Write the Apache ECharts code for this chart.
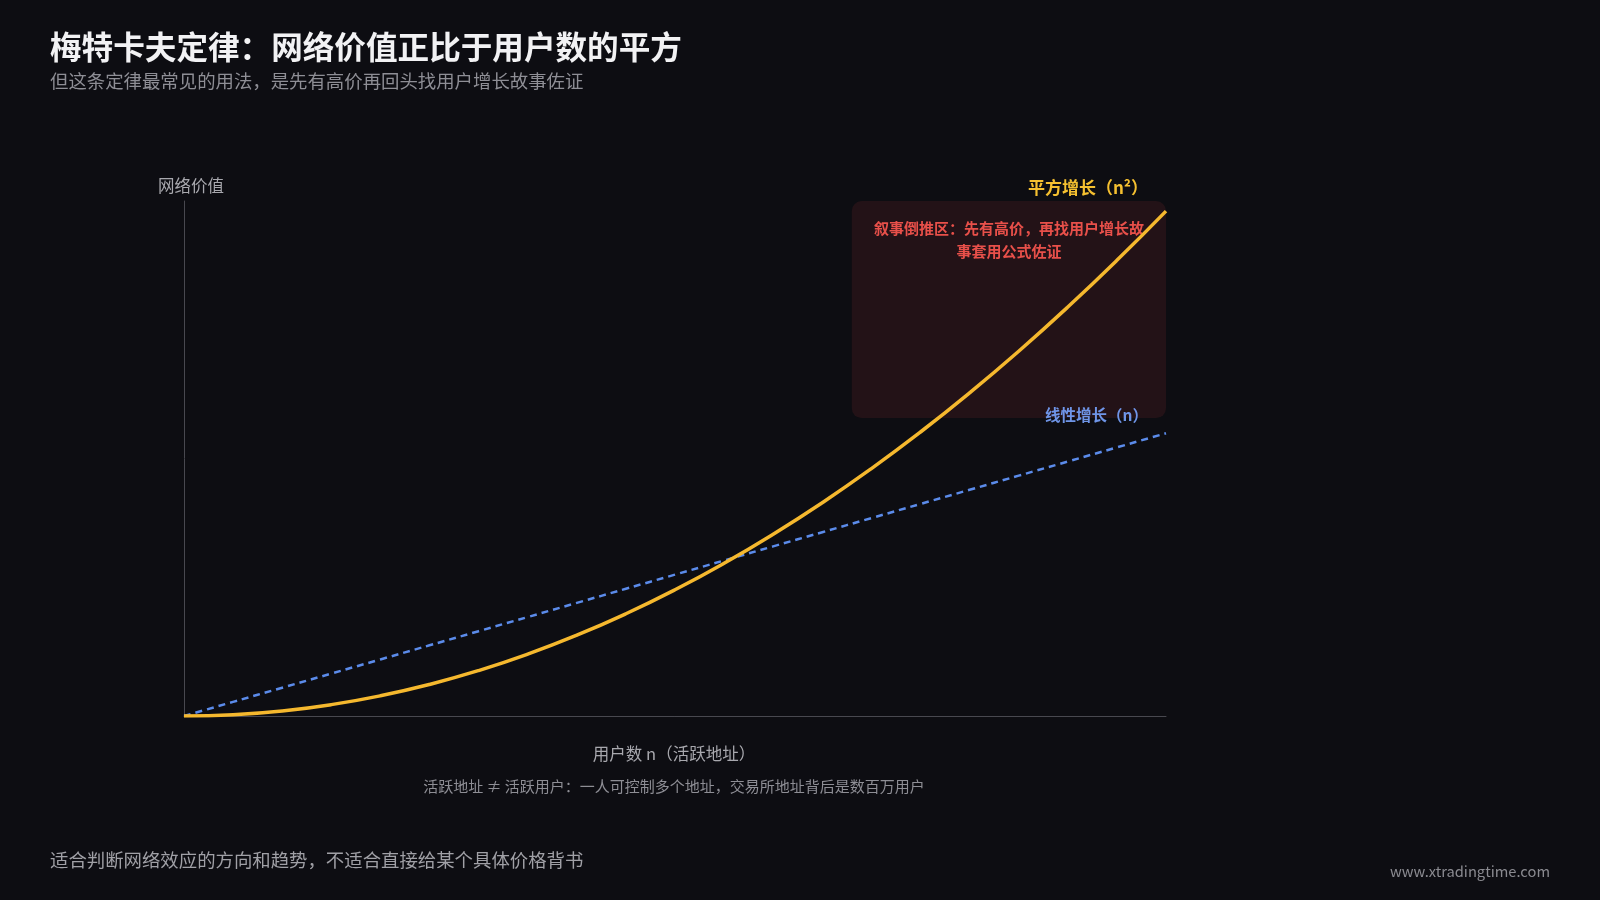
<!DOCTYPE html>
<html>
<head>
<meta charset="utf-8">
<script src="https://cdn.jsdelivr.net/npm/echarts@6/dist/echarts.min.js"></script>
<style>
html,body{margin:0;padding:0;background:#0d0d12;}
#c{width:1600px;height:900px;}
</style>
</head>
<body>
<div id="c"></div>
<script>
// Data
const users = [0,5,10,15,20,25,30,35,40,45,50,55,60,65,70,75,80,85,90,95,100];
const squareGrowth = [0,0.25,1,2.25,4,6.25,9,12.25,16,20.25,25,30.25,36,42.25,49,56.25,64,72.25,81,90.25,100];
const linearGrowth = [0,2.8,5.6,8.4,11.2,14,16.8,19.6,22.4,25.2,28,30.8,33.6,36.4,39.2,42,44.8,47.6,50.4,53.2,56];
const narrativeZone = [68, 102, 100, 59]; // xFrom, yTop, xTo, yBottom
const yMax = 102;

const FONT = '"Noto Sans CJK SC", "Noto Sans", sans-serif';
const chart = echarts.init(document.getElementById('c'));
const last = users.length - 1;

chart.setOption({
  backgroundColor: '#0d0d12',
  textStyle: {fontFamily: FONT},
  animation: false,
  grid: {left: 184, right: 434, top: 201, bottom: 184},
  xAxis: {
    type: 'value', min: 0, max: 100,
    name: '用户数 n（活跃地址）',
    nameLocation: 'middle', nameGap: 29,
    nameTextStyle: {color: '#a8a8ae', fontSize: 16.5, fontFamily: FONT, padding: [0, 2, 0, 0]},
    axisLine: {show: true, lineStyle: {color: '#48484f', width: 1}},
    axisTick: {show: false}, axisLabel: {show: false}, splitLine: {show: false}
  },
  yAxis: {
    type: 'value', min: 0, max: yMax,
    name: '网络价值',
    nameLocation: 'end', nameGap: 7,
    nameTextStyle: {color: '#a8a8ae', fontSize: 16.5, fontFamily: FONT, padding: [0, 0, 0, 14]},
    axisLine: {show: true, lineStyle: {color: '#48484f', width: 1}},
    axisTick: {show: false}, axisLabel: {show: false}, splitLine: {show: false}
  },
  series: [
    {
      type: 'custom', silent: true, z: 1,
      data: [narrativeZone],
      renderItem: function (params, api) {
        const p1 = api.coord([api.value(0), api.value(1)]);
        const p2 = api.coord([api.value(2), api.value(3)]);
        const w = p2[0] - p1[0], h = p2[1] - p1[1];
        return {
          type: 'group',
          children: [
            {type: 'rect', shape: {x: p1[0], y: p1[1], width: w, height: h, r: 10},
             style: {fill: 'rgba(239,68,68,0.10)'}},
            {type: 'text', x: p1[0] + w / 2, y: p1[1] + 16,
             style: {text: '叙事倒推区：先有高价，再找用户增长故\n事套用公式佐证',
                     fill: '#e8504a', font: 'bold 15px ' + FONT, lineHeight: 23,
                     align: 'center', verticalAlign: 'top'}}
          ]
        };
      }
    },
    {
      name: '线性增长（n）', type: 'line', smooth: true, symbol: 'none',
      data: users.map((u, i) => [u, linearGrowth[i]]),
      lineStyle: {color: '#5b8bea', width: 2.5, type: [7, 5]},
      z: 2,
      markPoint: {
        symbol: 'circle', symbolSize: 0,
        data: [{coord: [users[last], linearGrowth[last]]}],
        label: {
          show: true, formatter: '线性增长（n）', position: 'inside',
          align: 'right', verticalAlign: 'middle', offset: [-18, -18],
          color: '#6f95e8', fontSize: 15.5, fontWeight: 'bold', fontFamily: FONT
        }
      }
    },
    {
      name: '平方增长（n²）', type: 'line', smooth: true, symbol: 'none',
      data: users.map((u, i) => [u, squareGrowth[i]]),
      lineStyle: {color: '#f5b82e', width: 3.5},
      z: 3,
      markPoint: {
        symbol: 'circle', symbolSize: 0,
        data: [{coord: [users[last], squareGrowth[last]]}],
        label: {
          show: true, formatter: '平方增长（n²）', position: 'inside',
          align: 'right', verticalAlign: 'middle', offset: [-18, -24],
          color: '#f5c030', fontSize: 17, fontWeight: 'bold', fontFamily: FONT
        }
      }
    }
  ],
  graphic: [
    {type: 'text', left: 50, top: 31, style: {text: '梅特卡夫定律：网络价值正比于用户数的平方', fill: '#f2f2f4', font: 'bold 31.6px ' + FONT}},
    {type: 'text', left: 50, top: 72, style: {text: '但这条定律最常见的用法，是先有高价再回头找用户增长故事佐证', fill: '#8e8e95', font: '18.4px ' + FONT}},
    {type: 'text', x: 674, y: 786, style: {text: '活跃地址 ≠ 活跃用户：一人可控制多个地址，交易所地址背后是数百万用户', fill: '#8e8e95', font: '15px ' + FONT, align: 'center', verticalAlign: 'middle'}},
    {type: 'text', left: 50, top: 851, style: {text: '适合判断网络效应的方向和趋势，不适合直接给某个具体价格背书', fill: '#a0a0a6', font: '18.4px ' + FONT}},
    {type: 'text', right: 50, top: 864, style: {text: 'www.xtradingtime.com', fill: '#8a8a90', font: '14.7px ' + FONT}}
  ]
});
</script>
</body>
</html>
